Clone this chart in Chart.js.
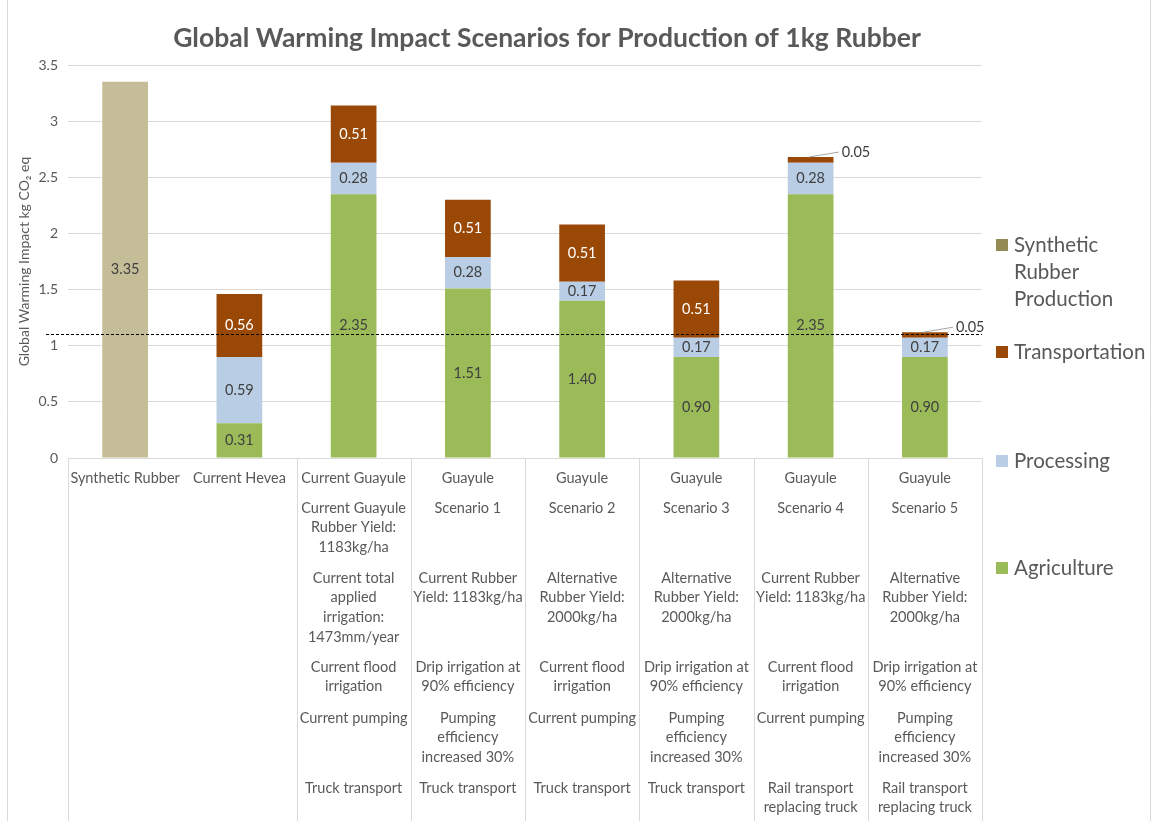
<!DOCTYPE html>
<html>
<head>
<meta charset="utf-8">
<script src="https://cdn.jsdelivr.net/npm/chart.js@4.4.1/dist/chart.umd.min.js"></script>
<style>
html,body{margin:0;padding:0;background:#fff;}
#wrap{width:1152px;height:821px;position:relative;}
</style>
</head>
<body>
<div id="wrap"><canvas id="c"></canvas></div>
<script>
const chartTitle = "Global Warming Impact Scenarios for Production of 1kg Rubber";
const yAxisTitle = "Global Warming Impact kg CO\u2082 eq";
const categories = ["Synthetic Rubber","Current Hevea","Current Guayule","Guayule","Guayule","Guayule","Guayule","Guayule"];
const syntheticValues = [3.35,null,null,null,null,null,null,null];
const agricultureValues = [null,0.31,2.35,1.51,1.40,0.90,2.35,0.90];
const processingValues = [null,0.59,0.28,0.28,0.17,0.17,0.28,0.17];
const transportationValues = [null,0.56,0.51,0.51,0.51,0.51,0.05,0.05];
const thresholdValue = 1.1;
const yTicks = {min:0,max:3.5,step:0.5};
const legendNames = [["Synthetic","Rubber","Production"],["Transportation"],["Processing"],["Agriculture"]];
// Detail rows of the category table (rows 2..6)
const scenarioRow = [[],[],["Current Guayule","Rubber Yield:","1183kg/ha"],["Scenario 1"],["Scenario 2"],["Scenario 3"],["Scenario 4"],["Scenario 5"]];
const yieldRow = [[],[],["Current total","applied","irrigation:","1473mm/year"],["Current Rubber","Yield: 1183kg/ha"],["Alternative","Rubber Yield:","2000kg/ha"],["Alternative","Rubber Yield:","2000kg/ha"],["Current Rubber","Yield: 1183kg/ha"],["Alternative","Rubber Yield:","2000kg/ha"]];
const irrigationRow = [[],[],["Current flood","irrigation"],["Drip irrigation at","90% efficiency"],["Current flood","irrigation"],["Drip irrigation at","90% efficiency"],["Current flood","irrigation"],["Drip irrigation at","90% efficiency"]];
const pumpingRow = [[],[],["Current pumping"],["Pumping","efficiency","increased 30%"],["Current pumping"],["Pumping","efficiency","increased 30%"],["Current pumping"],["Pumping","efficiency","increased 30%"]];
const transportRow = [[],[],["Truck transport"],["Truck transport"],["Truck transport"],["Truck transport"],["Rail transport","replacing truck"],["Rail transport","replacing truck"]];

const FONT = "Lato, 'Open Sans', sans-serif";
const TXT = "#595959";
const colors = {synthetic:"#C4BD97", syntheticLegend:"#948A54", transport:"#9A4806", processing:"#B9CDE5", agriculture:"#9BBB59"};
const labelColors = {Agriculture:'#404040', Processing:'#404040', Transportation:'#FFFFFF', 'Synthetic Rubber Production':'#404040'};

const decoPlugin = {
  id:'deco',
  beforeDraw(chart){
    const ctx = chart.ctx;
    ctx.save();
    ctx.fillStyle = '#fff';
    ctx.fillRect(0,0,chart.width,chart.height);
    ctx.strokeStyle = '#D9D9D9';
    ctx.lineWidth = 1;
    ctx.beginPath();
    ctx.moveTo(7.5,0); ctx.lineTo(7.5,chart.height);
    ctx.moveTo(1150.5,0); ctx.lineTo(1150.5,chart.height);
    ctx.stroke();
    ctx.restore();
  },
  afterDraw(chart){
    const ctx = chart.ctx;
    const area = chart.chartArea;
    const x = chart.scales.x, y = chart.scales.y;
    ctx.save();
    // title
    ctx.fillStyle = TXT;
    ctx.font = "bold 26.5px " + FONT;
    ctx.textAlign = 'center'; ctx.textBaseline = 'middle';
    ctx.fillText(chartTitle, 547, 38);
    // category table
    const n = categories.length;
    const cw = (area.right - area.left)/n;
    ctx.strokeStyle = '#D9D9D9'; ctx.lineWidth = 1;
    ctx.beginPath();
    ctx.moveTo(area.left, Math.round(area.bottom)+0.5); ctx.lineTo(area.right, Math.round(area.bottom)+0.5);
    const lineIdx = [0,2,3,4,5,6,7,8];
    lineIdx.forEach(i=>{ const lx = Math.round(area.left + cw*i)+0.5; ctx.moveTo(lx, area.bottom); ctx.lineTo(lx, chart.height); });
    ctx.stroke();
    ctx.fillStyle = TXT; ctx.font = "14.5px " + FONT; ctx.textAlign='center'; ctx.textBaseline='middle';
    const rows = [categories.map(c=>[c]), scenarioRow, yieldRow, irrigationRow, pumpingRow, transportRow];
    const rowY = [478, 508, 578, 667, 718, 788];
    const lh = 19.7;
    for(let i=0;i<n;i++){
      const cx = x.getPixelForValue(i);
      rows.forEach((r,ri)=>{ (r[i]||[]).forEach((t,li)=>ctx.fillText(t, cx, rowY[ri]+li*lh)); });
    }
    // data labels
    ctx.font = "14.5px " + FONT;
    chart.data.datasets.forEach((ds,di)=>{
      const meta = chart.getDatasetMeta(di);
      meta.data.forEach((el,i)=>{
        const v = ds.data[i];
        if(v===null||v===undefined) return;
        const txt = v.toFixed(2);
        if(v < 0.1){
          const top = el.y;
          ctx.strokeStyle = '#A6A6A6';
          ctx.beginPath(); ctx.moveTo(el.x-2, top); ctx.lineTo(el.x+28, top-5); ctx.stroke();
          ctx.textAlign='left'; ctx.fillStyle='#404040';
          ctx.fillText(txt, el.x+31, top-5);
          ctx.textAlign='center';
        } else {
          ctx.fillStyle = labelColors[ds.label];
          ctx.fillText(txt, el.x, (el.y+el.base)/2);
        }
      });
    });
    // threshold dashed line
    const ty = Math.round(y.getPixelForValue(thresholdValue)) + 0.5;
    ctx.strokeStyle = '#000'; ctx.lineWidth = 1; ctx.setLineDash([3,2]);
    ctx.beginPath(); ctx.moveTo(46, ty); ctx.lineTo(area.right, ty); ctx.stroke();
    ctx.setLineDash([]);
    // legend
    const legColors = [colors.syntheticLegend, colors.transport, colors.processing, colors.agriculture];
    const legY = [245, 352, 461, 568];
    ctx.font = "20.5px " + FONT; ctx.textAlign='left'; ctx.textBaseline='middle';
    legendNames.forEach((lines,i)=>{
      ctx.fillStyle = legColors[i];
      ctx.fillRect(996, legY[i]-6, 12, 12);
      ctx.fillStyle = TXT;
      lines.forEach((t,li)=>ctx.fillText(t, 1014, legY[i]+li*27));
    });
    ctx.restore();
  }
};

new Chart(document.getElementById('c'), {
  type:'bar',
  data:{
    labels: categories,
    datasets:[
      {label:'Agriculture', data:agricultureValues, backgroundColor:colors.agriculture},
      {label:'Processing', data:processingValues, backgroundColor:colors.processing},
      {label:'Transportation', data:transportationValues, backgroundColor:colors.transport},
      {label:'Synthetic Rubber Production', data:syntheticValues, backgroundColor:colors.synthetic}
    ]
  },
  options:{
    responsive:true, maintainAspectRatio:false, animation:false,
    devicePixelRatio:1,
    layout:{padding:{left:8,right:170,top:65,bottom:355}},
    datasets:{bar:{categoryPercentage:1.0, barPercentage:0.4, borderWidth:0}},
    plugins:{legend:{display:false}, title:{display:false}, tooltip:{enabled:false}},
    scales:{
      x:{stacked:true, grid:{display:false}, border:{display:false}, ticks:{display:false}},
      y:{stacked:true, min:yTicks.min, max:yTicks.max,
         ticks:{stepSize:yTicks.step, color:TXT, font:{family:FONT,size:14}, padding:10,
                callback:(v)=>String(Number(v))},
         grid:{color:'#D9D9D9', drawTicks:false},
         border:{display:false},
         title:{display:true, text:yAxisTitle, color:TXT, font:{family:FONT,size:14}, padding:{top:8,bottom:2}},
         afterFit(s){ s.width = 60; }
      }
    }
  },
  plugins:[decoPlugin]
});
</script>
</body>
</html>
